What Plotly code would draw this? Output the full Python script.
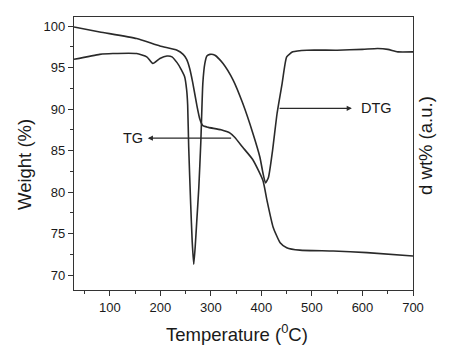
import plotly.graph_objects as go

# TG curve (weight %)
tg_temp = [29, 80, 153, 199, 233, 245, 252, 258, 264, 272, 278, 284, 295, 320, 338, 347,
           363, 383, 403, 411, 423, 437, 450, 476, 542, 609, 700]
tg_val = [99.9, 99.3, 98.5, 97.6, 97.1, 96.6, 96.0, 94.9, 93.2, 90.5, 88.8, 88.0, 87.8,
          87.5, 87.1, 86.6, 85.4, 83.9, 81.4, 79.0, 75.8, 73.9, 73.3, 73.0, 72.9, 72.7, 72.3]

# DTG curve (plotted on same visual scale, a.u.)
dtg_temp = [29, 80, 106, 153, 173, 185, 199, 213, 223, 233, 241, 248, 252, 254, 256, 260,
            263, 266, 269, 272, 276, 280, 284, 288, 292, 298, 308, 324, 344, 363, 383, 397,
            403, 408, 414, 422, 431, 441, 450, 462, 490, 550, 600, 630, 650, 670, 700]
dtg_val = [96.0, 96.6, 96.7, 96.7, 96.3, 95.5, 96.1, 96.4, 96.3, 95.6, 94.8, 93.9, 92.3,
           90.5, 85.5, 78.5, 74.0, 71.3, 73.5, 76.5, 80.5, 86.0, 93.1, 95.5, 96.4, 96.6,
           96.5, 95.5, 93.5, 90.7, 87.1, 84.2, 82.3, 81.1, 81.8, 85.0, 89.5, 93.1, 96.3,
           96.9, 97.1, 97.1, 97.2, 97.3, 97.2, 96.9, 96.9]

x_ticks = [100, 200, 300, 400, 500, 600, 700]
y_ticks = [70, 75, 80, 85, 90, 95, 100]

# label arrows: (label, head_x, tail_x, y, text_x)
tg_label = ("TG", 175, 343, 86.5, 145)
dtg_label = ("DTG", 579, 433, 90.1, 627)

line_color = "#2a2a2a"
font_family = "Arial, Liberation Sans, sans-serif"

fig = go.Figure()
fig.add_trace(go.Scatter(x=tg_temp, y=tg_val, mode="lines",
                         line=dict(color=line_color, width=1.6, shape="spline", smoothing=0.5),
                         showlegend=False))
fig.add_trace(go.Scatter(x=dtg_temp, y=dtg_val, mode="lines",
                         line=dict(color=line_color, width=1.6, shape="spline", smoothing=0.5),
                         showlegend=False))

for lab, head, tail, yy, tx in (tg_label, dtg_label):
    fig.add_annotation(x=head, y=yy, ax=tail, ay=yy, xref="x", yref="y",
                       axref="x", ayref="y", text="", showarrow=True,
                       arrowhead=2, arrowsize=0.8, arrowwidth=1.3, arrowcolor=line_color)
    fig.add_annotation(x=tx, y=yy, xref="x", yref="y", text=lab, showarrow=False,
                       font=dict(size=14.5, color="#1a1a1a", family=font_family))

# axis titles
fig.add_annotation(x=-0.1445, y=0.458, xref="paper", yref="paper", text="Weight (%)",
                   textangle=-90, showarrow=False, xanchor="center", yanchor="middle",
                   font=dict(size=18.5, color="#1a1a1a", family=font_family))
fig.add_annotation(x=1.035, y=0.531, xref="paper", yref="paper", text="d wt% (a.u.)",
                   textangle=-90, showarrow=False, xanchor="center", yanchor="middle",
                   font=dict(size=18.5, color="#1a1a1a", family=font_family))
fig.add_annotation(x=0.481, y=-0.1575, xref="paper", yref="paper",
                   text="Temperature (<sup>0</sup>C)", showarrow=False,
                   xanchor="center", yanchor="middle",
                   font=dict(size=18.5, color="#1a1a1a", family=font_family))

fig.update_layout(
    width=449, height=352,
    margin=dict(l=74, r=36, t=17, b=62),
    paper_bgcolor="white", plot_bgcolor="white",
    font=dict(family=font_family, size=13, color="#1a1a1a"),
    xaxis=dict(range=[29, 700], tickvals=x_ticks, ticks="outside", ticklen=5,
               tickwidth=1, tickcolor="#333", showline=True, linecolor="#333",
               linewidth=1.2, mirror=True, showgrid=False, zeroline=False,
               minor=dict(ticks="outside", ticklen=3, dtick=50, tick0=0, tickcolor="#333"),
               tickfont=dict(size=13)),
    yaxis=dict(range=[68.2, 101.1], tickvals=y_ticks, ticks="outside", ticklen=5,
               tickwidth=1, tickcolor="#333", showline=True, linecolor="#333",
               linewidth=1.2, mirror=True, showgrid=False, zeroline=False,
               minor=dict(ticks="outside", ticklen=3, dtick=2.5, tick0=0, tickcolor="#333"),
               tickfont=dict(size=13)),
)

fig.write_html("out.html")
